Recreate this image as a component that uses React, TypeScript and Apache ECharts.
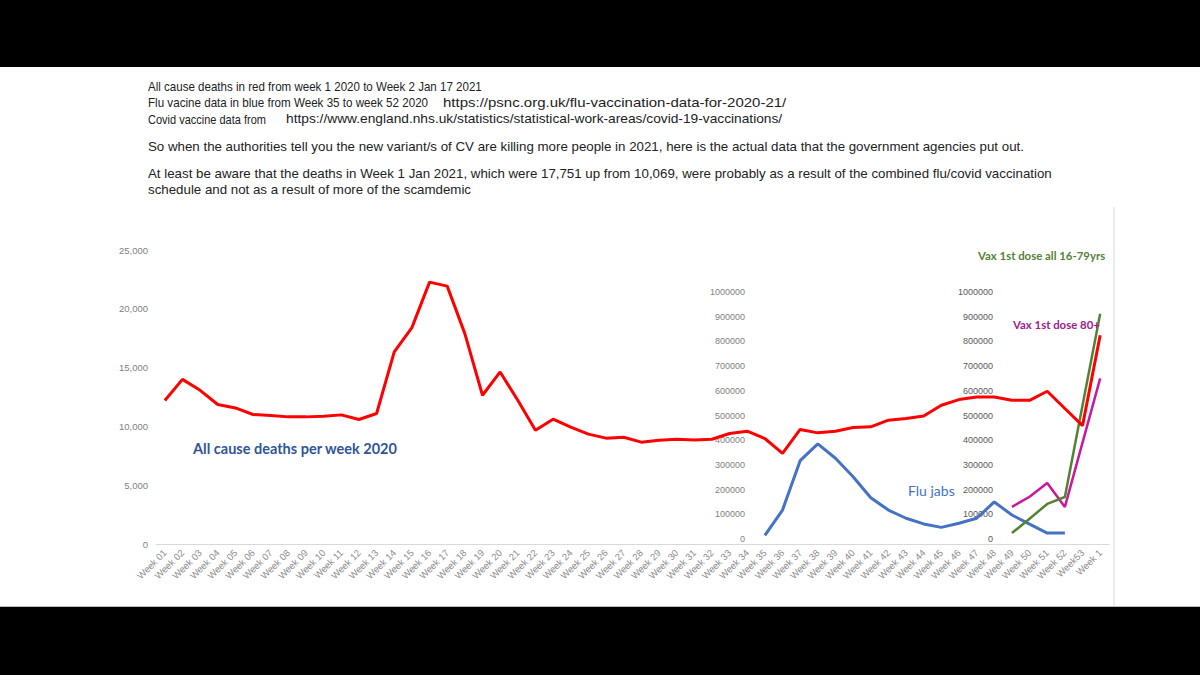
import React, { useEffect, useRef } from "react";
import * as echarts from "echarts";

// ---- Data ----
const weeks: string[] = [
  "Week 01", "Week 02", "Week 03", "Week 04", "Week 05", "Week 06", "Week 07", "Week 08", "Week 09", "Week 10",
  "Week 11", "Week 12", "Week 13", "Week 14", "Week 15", "Week 16", "Week 17", "Week 18", "Week 19", "Week 20",
  "Week 21", "Week 22", "Week 23", "Week 24", "Week 25", "Week 26", "Week 27", "Week 28", "Week 29", "Week 30",
  "Week 31", "Week 32", "Week 33", "Week 34", "Week 35", "Week 36", "Week 37", "Week 38", "Week 39", "Week 40",
  "Week 41", "Week 42", "Week 43", "Week 44", "Week 45", "Week 46", "Week 47", "Week 48", "Week 49", "Week 50",
  "Week 51", "Week 52", "Week53", "Week 1",
];

// All cause deaths per week (Week 01 2020 .. Week 53 2020, Week 1 2021)
const allCauseDeaths: number[] = [
  12200, 14000, 13070, 11860, 11570, 11010, 10920, 10810, 10810, 10870,
  10980, 10590, 11100, 16330, 18400, 22270, 21930, 17890, 12650, 14630,
  12220, 9680, 10610, 9930, 9340, 9000, 9080, 8660, 8830, 8900,
  8850, 8910, 9400, 9590, 8970, 7700, 9740, 9450, 9590, 9910,
  9960, 10530, 10670, 10890, 11800, 12280, 12500, 12500, 12220, 12220,
  12990, 11520, 10069, 17751,
];

// Flu jabs, Week 35 .. Week 52 2020
const fluStartIndex = 34;
const fluJabs: number[] = [
  15000, 117000, 317000, 385000, 327000, 252000, 167000, 117000, 84000, 61000,
  47000, 64000, 84000, 150000, 97000, 60000, 24000, 24000,
];

// Covid vaccine 1st dose, Week 49 .. Week 52 2020, (Week53 none), Week 1 2021
const vaxStartIndex = 48;
const vax80plus: (number | null)[] = [130000, 171000, 227000, 130000, null, 650000];
const vax16to79: (number | null)[] = [24000, 82000, 142000, 170000, null, 912000];

const deathTicks = { min: 0, max: 25000, interval: 5000 };
const vaxTicks = { min: 0, max: 1000000, interval: 100000 };

const headerLines: string[] = [
  "All cause deaths in red from week 1 2020 to Week 2 Jan 17 2021",
  "Flu vacine data in blue from Week 35 to week 52 2020",
  "Covid vaccine data from",
  "So when the authorities tell you the new variant/s of CV are killing more people in 2021, here is the actual data that the government agencies put out.",
  "At least be aware that the deaths in Week 1 Jan 2021, which were 17,751 up from 10,069, were probably as a result of the combined flu/covid vaccination",
  "schedule and not as a result of more of the scamdemic",
];
const fluUrl = "https://psnc.org.uk/flu-vaccination-data-for-2020-21/";
const covidUrl = "https://www.england.nhs.uk/statistics/statistical-work-areas/covid-19-vaccinations/";

function placeSeries(start: number, values: (number | null)[]): (number | null)[] {
  const out: (number | null)[] = weeks.map(() => null);
  values.forEach((v, i) => {
    out[start + i] = v;
  });
  return out;
}

const GRID_LEFT = 156;
const GRID_RIGHT = 91;

export default function App() {
  const ref = useRef<HTMLDivElement>(null);

  useEffect(() => {
    if (!ref.current) return;
    const chart = echarts.init(ref.current, null, { renderer: "svg" });

    const headerFont = "Liberation Sans, Arial, sans-serif";
    const headerY = [87, 103, 119, 146, 173, 189];
    const headerSize = [12.5, 12.5, 12.5, 13.3, 13.3, 13.3];
    const headerScale = [0.925, 0.93, 0.88, 1, 1, 1];
    const headerGraphics: any[] = headerLines.map((t, i) => ({
      type: "text",
      x: 148,
      y: headerY[i],
      scaleX: headerScale[i],
      style: {
        text: t,
        fill: "#222",
        font: `${headerSize[i]}px ${headerFont}`,
        textVerticalAlign: "middle",
      },
    }));
    headerGraphics.push({
      type: "text",
      x: 443,
      y: headerY[1],
      scaleX: 1.2,
      style: { text: fluUrl, fill: "#222", font: `12.5px ${headerFont}`, textVerticalAlign: "middle" },
    });
    headerGraphics.push({
      type: "text",
      x: 286,
      y: headerY[2],
      scaleX: 1.1,
      style: { text: covidUrl, fill: "#222", font: `12.5px ${headerFont}`, textVerticalAlign: "middle" },
    });

    const option: any = {
      animation: false,
      backgroundColor: "#ffffff",
      graphic: [
        { type: "rect", shape: { x: 0, y: 0, width: 1200, height: 67 }, style: { fill: "#000" } },
        { type: "rect", shape: { x: 0, y: 607, width: 1200, height: 68 }, style: { fill: "#000" } },
        { type: "line", shape: { x1: 0, y1: 606.5, x2: 1200, y2: 606.5 }, style: { stroke: "#bbbbbb", lineWidth: 1 } },
        { type: "line", shape: { x1: 1114, y1: 207, x2: 1114, y2: 606 }, style: { stroke: "#d6d6d6", lineWidth: 1 } },
        ...headerGraphics,
        {
          type: "text",
          x: 193,
          y: 448,
          style: {
            text: "All cause deaths per week 2020",
            fill: "#2F5597",
            font: "bold 14.5px Lato, sans-serif",
            textVerticalAlign: "middle",
          },
        },
        {
          type: "text",
          x: 908,
          y: 490,
          style: {
            text: "Flu jabs",
            fill: "#4472C4",
            font: "14px Lato, sans-serif",
            textVerticalAlign: "middle",
          },
        },
        {
          type: "text",
          x: 978,
          y: 255,
          z: 100,
          style: {
            text: "Vax 1st dose all 16-79yrs",
            fill: "#548235",
            font: "bold 11.4px Lato, sans-serif",
            textVerticalAlign: "middle",
          },
        },
        {
          type: "text",
          x: 1013,
          y: 324,
          z: 100,
          style: {
            text: "Vax 1st dose 80+",
            fill: "#A0218C",
            font: "bold 11.4px Lato, sans-serif",
            textVerticalAlign: "middle",
          },
        },
      ],
      grid: [
        { left: GRID_LEFT, right: GRID_RIGHT, top: 250, bottom: 675 - 544, containLabel: false },
        { left: GRID_LEFT, right: GRID_RIGHT, top: 292, bottom: 675 - 539, containLabel: false },
      ],
      xAxis: [
        {
          type: "category",
          gridIndex: 0,
          data: weeks,
          boundaryGap: true,
          axisLine: { show: true, lineStyle: { color: "#d9d9d9", width: 1 } },
          axisTick: { show: false },
          axisLabel: {
            interval: 0,
            rotate: 45,
            color: "#8c8c8c",
            fontSize: 9.5,
            fontFamily: "Liberation Sans, Arial, sans-serif",
            margin: 7,
          },
          splitLine: { show: false },
        },
        {
          type: "category",
          gridIndex: 1,
          data: weeks,
          boundaryGap: true,
          show: false,
        },
      ],
      yAxis: [
        {
          type: "value",
          gridIndex: 0,
          position: "left",
          ...deathTicks,
          axisLine: { show: false },
          axisTick: { show: false },
          splitLine: { show: false },
          axisLabel: {
            color: "#7f7f7f",
            fontSize: 9.5,
            fontFamily: "Liberation Sans, Arial, sans-serif",
            margin: 8,
            formatter: (v: number) => v.toLocaleString("en-US"),
          },
        },
        {
          type: "value",
          gridIndex: 1,
          position: "left",
          offset: GRID_LEFT - 753,
          ...vaxTicks,
          axisLine: { show: false },
          axisTick: { show: false },
          splitLine: { show: false },
          axisLabel: {
            color: "#7f7f7f",
            fontSize: 9,
            fontFamily: "Liberation Sans, Arial, sans-serif",
            margin: 8,
            formatter: (v: number) => String(v),
          },
        },
        {
          type: "value",
          gridIndex: 1,
          position: "left",
          offset: GRID_LEFT - 1001,
          ...vaxTicks,
          axisLine: { show: false },
          axisTick: { show: false },
          splitLine: { show: false },
          axisLabel: {
            color: "#595959",
            fontSize: 9,
            fontFamily: "Liberation Sans, Arial, sans-serif",
            margin: 8,
            formatter: (v: number) => String(v),
          },
        },
      ],
      series: [
        {
          name: "Flu jabs",
          type: "line",
          xAxisIndex: 1,
          yAxisIndex: 1,
          data: placeSeries(fluStartIndex, fluJabs),
          showSymbol: false,
          symbol: "none",
          lineStyle: { color: "#4472C4", width: 3 },
          z: 3,
        },
        {
          name: "Vax 1st dose 80+",
          type: "line",
          xAxisIndex: 1,
          yAxisIndex: 2,
          data: placeSeries(vaxStartIndex, vax80plus),
          connectNulls: true,
          showSymbol: false,
          symbol: "none",
          lineStyle: { color: "#C8189E", width: 2.5 },
          z: 3,
        },
        {
          name: "Vax 1st dose all 16-79yrs",
          type: "line",
          xAxisIndex: 1,
          yAxisIndex: 2,
          data: placeSeries(vaxStartIndex, vax16to79),
          connectNulls: true,
          showSymbol: false,
          symbol: "none",
          lineStyle: { color: "#548235", width: 2.5 },
          z: 4,
        },
        {
          name: "All cause deaths",
          type: "line",
          xAxisIndex: 0,
          yAxisIndex: 0,
          data: allCauseDeaths,
          showSymbol: false,
          symbol: "none",
          lineStyle: { color: "#FF0000", width: 3 },
          z: 5,
        },
      ],
    };

    chart.setOption(option);
    return () => {
      chart.dispose();
    };
  }, []);

  return (
    <div
      ref={ref}
      style={{ position: "fixed", left: 0, top: 0, width: 1200, height: 675 }}
    />
  );
}
